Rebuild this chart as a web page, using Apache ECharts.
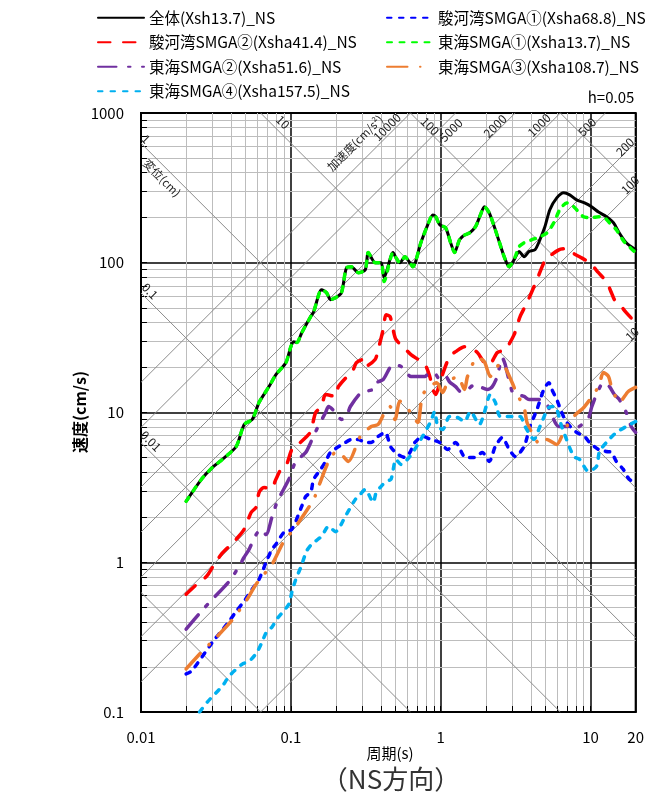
<!DOCTYPE html>
<html><head><meta charset="utf-8">
<script src="https://cdn.jsdelivr.net/npm/echarts@6/dist/echarts.min.js"></script>
<style>html,body{margin:0;padding:0;background:#fff}#c{width:647px;height:799px}</style>
</head><body><div id="c"></div>
<script>
const FONT = '"Noto Sans CJK JP","Noto Sans",sans-serif';

// ---- data (period T [s], pseudo velocity V [cm/s]) ----
const seriesNames = [
  '全体(Xsh13.7)_NS',
  '駿河湾SMGA①(Xsha68.8)_NS',
  '駿河湾SMGA②(Xsha41.4)_NS',
  '東海SMGA①(Xsha13.7)_NS',
  '東海SMGA②(Xsha51.6)_NS',
  '東海SMGA③(Xsha108.7)_NS',
  '東海SMGA④(Xsha157.5)_NS'
];
const xTickLabels = ['0.01','0.1','1','10','20'];
const yTickLabels = ['0.1','1','10','100','1000'];
const dampingText = 'h=0.05';

const total = [[0.02,2.55],[0.0253,3.58],[0.030,4.30],[0.0349,4.86],[0.0432,5.93],[0.0488,8.32],[0.0552,8.98],[0.0614,11.7],[0.0715,14.9],[0.0795,17.9],[0.0926,21.5],[0.1,27.5],[0.1047,29.7],[0.1096,29.3],[0.1183,34.1],[0.1357,43.7],[0.142,47.1],[0.1604,66.1],[0.173,63.1],[0.184,56.7],[0.1986,58.4],[0.2176,63.1],[0.235,92.6],[0.2535,94.0],[0.282,85.8],[0.3138,89.8],[0.3286,117],[0.3654,100],[0.4005,100],[0.419,79.4],[0.481,117],[0.503,108],[0.535,100],[0.577,109.6],[0.623,100],[0.652,94],[0.737,136],[0.82,179.5],[0.885,208.6],[0.926,203],[0.985,179.5],[1.079,171],[1.165,136],[1.238,117],[1.336,142.6],[1.442,153],[1.556,158],[1.705,173.7],[1.84,208.6],[1.956,236.6],[2.11,215],[2.278,173.7],[2.458,138],[2.653,109.6],[2.863,94],[3.09,104.7],[3.335,118.9],[3.6,109.6],[3.884,118.9],[4.256,122],[4.593,142.6],[4.957,173.7],[5.349,226],[5.95,271],[6.62,293],[7.256,284],[8.07,263],[9.12,251],[10.15,236.6],[11.3,218],[12.76,203],[14.21,185],[15.56,158],[17.31,136],[20,122]];

const surugaA = [[0.02,0.1795],[0.0218,0.188],[0.030,0.293],[0.0344,0.347],[0.0388,0.404],[0.0432,0.471],[0.0488,0.549],[0.0552,0.661],[0.0614,0.770],[0.0683,1.0],[0.0748,1.222],[0.0795,1.32],[0.0898,1.58],[0.1015,1.66],[0.1183,2.37],[0.1257,2.75],[0.1357,2.93],[0.142,3.58],[0.158,4.17],[0.1705,4.71],[0.184,5.41],[0.2313,6.31],[0.2535,6.61],[0.282,6.61],[0.314,6.31],[0.344,6.31],[0.3825,6.92],[0.4256,7.36],[0.466,5.84],[0.519,5.25],[0.577,5.01],[0.623,5.41],[0.672,6.31],[0.760,6.92],[0.858,6.61],[0.985,6.31],[1.113,5.67],[1.257,6.31],[1.464,5.01],[1.679,5.01],[1.897,5.41],[2.11,4.71],[2.313,5.93],[2.574,6.81],[2.863,5.67],[3.138,5.09],[3.6,5.93],[3.944,8.06],[4.388,10.47],[4.88,14.26],[5.268,15.8],[5.515,14.26],[5.95,12.2],[6.42,10],[6.93,8.58],[8.07,7.36],[9.12,6.92],[9.85,6.31],[11.3,5.67],[12.76,5.49],[13.78,5.41],[14.86,4.71],[16.54,4.17],[18.12,3.58],[20,3.41]];

const surugaB = [[0.02,0.612],[0.0228,0.692],[0.0274,0.806],[0.030,0.926],[0.0344,1.133],[0.0388,1.28],[0.0432,1.426],[0.0488,1.66],[0.0543,2.15],[0.0586,2.33],[0.0614,2.93],[0.0662,3.16],[0.0737,3.07],[0.0795,3.58],[0.0858,4.17],[0.0926,4.37],[0.1015,5.67],[0.1079,5.93],[0.1276,6.92],[0.1357,7.47],[0.1464,10],[0.1604,10.96],[0.1705,13.2],[0.1986,12.8],[0.2078,14.9],[0.261,19.4],[0.2735,21.5],[0.304,22.6],[0.314,20.3],[0.365,22.6],[0.3825,26.3],[0.413,35.8],[0.432,45.0],[0.459,43.7],[0.481,35.8],[0.503,30.7],[0.586,26.3],[0.633,24.35],[0.783,20.9],[0.845,17.4],[0.885,14.3],[0.926,13.2],[1.0,16.6],[1.147,23.7],[1.257,25.5],[1.442,27.5],[1.58,27.1],[1.758,25.1],[1.956,21.5],[2.11,20.9],[2.385,25.1],[2.694,26.3],[3.09,33.1],[3.386,43.7],[3.767,54.1],[4.19,69.2],[4.388,77],[4.88,100],[5.268,109.6],[6.14,122],[6.72,124],[7.256,118.9],[8.45,109.6],[9.85,100],[11.3,85.8],[12.76,74.7],[13.78,63.1],[14.42,56.7],[15.32,54.1],[17.31,46.4],[20,39.8]];

const tokaiA = [[0.02,2.55],[0.0253,3.58],[0.030,4.30],[0.0349,4.86],[0.0432,5.93],[0.0488,8.32],[0.0552,8.98],[0.0614,11.7],[0.0715,14.9],[0.0795,17.9],[0.0926,21.5],[0.1,27.5],[0.1047,29.7],[0.1096,29.3],[0.1183,34.1],[0.1357,43.7],[0.142,47.1],[0.1604,66.1],[0.173,63.1],[0.184,56.7],[0.1986,58.4],[0.2176,63.1],[0.235,92.6],[0.2535,94.0],[0.282,85.8],[0.3138,89.8],[0.3286,117],[0.3654,100],[0.4005,100],[0.419,75],[0.481,117],[0.503,108],[0.535,100],[0.577,109.6],[0.623,100],[0.652,94],[0.737,136],[0.82,179.5],[0.885,208.6],[0.926,203],[0.985,179.5],[1.079,171],[1.165,136],[1.238,117],[1.336,142.6],[1.442,153],[1.556,158],[1.705,173.7],[1.84,208.6],[1.956,236.6],[2.11,215],[2.278,173.7],[2.458,138],[2.653,109.6],[2.863,94],[3.14,109.6],[3.335,128],[3.6,136],[4.066,142.6],[4.593,149],[5.11,158],[5.685,185],[6.23,226],[6.93,251],[7.48,243.5],[8.07,226],[8.98,203],[10.15,200],[11.3,203],[12.38,200],[13.36,185],[14.86,166],[16.79,138],[20,117]];

const tokaiB = [[0.02,0.358],[0.0253,0.471],[0.030,0.567],[0.0388,0.747],[0.0439,0.898],[0.0488,1.08],[0.0527,1.222],[0.0586,1.53],[0.0633,1.66],[0.0683,1.53],[0.0748,2.0],[0.0807,2.51],[0.0858,2.84],[0.097,3.58],[0.1079,4.71],[0.1257,5.41],[0.1357,6.31],[0.1464,7.47],[0.1705,10],[0.1785,10.96],[0.1986,10],[0.2176,8.98],[0.235,9.4],[0.2496,10.96],[0.295,13.6],[0.3545,14.26],[0.371,15.8],[0.413,16.6],[0.459,20.0],[0.481,20.9],[0.543,20.3],[0.604,17.95],[0.633,17.4],[0.783,17.4],[0.845,18.5],[0.926,17.95],[0.985,16.6],[1.079,17.4],[1.147,16.0],[1.257,14.9],[1.357,13.8],[1.51,14.26],[1.679,15.3],[2.048,14.26],[2.21,14.9],[2.385,17.4],[2.574,23.3],[2.694,20.9],[3.0,13.8],[3.235,13.2],[3.6,12.8],[3.884,12.2],[4.593,12.2],[5.11,11.33],[6.14,8.06],[6.93,8.06],[8.07,7.94],[9.70,9.26],[10.15,10.8],[10.96,13.2],[12.19,15.8],[13.36,14.9],[14.42,13.2],[15.56,12.2],[17.31,10],[18.68,8.06],[20,7.36]];

const tokaiC = [[0.02,0.194],[0.0253,0.251],[0.030,0.297],[0.04,0.404],[0.0511,0.567],[0.0569,0.681],[0.0642,0.806],[0.0737,0.94],[0.0898,1.38],[0.1015,1.60],[0.1129,1.85],[0.142,2.63],[0.1532,3.21],[0.1785,4.71],[0.2017,5.49],[0.2176,5.25],[0.242,4.71],[0.2907,6.92],[0.344,8.06],[0.3825,8.32],[0.432,10.47],[0.459,10.96],[0.4957,8.98],[0.535,11.9],[0.623,10.15],[0.704,8.58],[0.760,13.2],[0.94,15.8],[1.031,13.6],[1.113,15.8],[1.296,17.4],[1.442,14.26],[1.51,17.4],[1.758,23.3],[1.956,21.8],[2.143,17.4],[2.385,20.3],[2.574,21.5],[2.694,20.0],[3.0,15.8],[3.235,13.2],[3.6,10.8],[3.767,8.58],[4.19,6.92],[4.593,6.12],[5.11,6.61],[5.95,6.12],[6.72,7.70],[7.71,9.4],[9.12,10.96],[11.3,14.9],[12.19,18.5],[13.16,17.4],[13.78,14.9],[15.56,11.7],[17.85,13.8],[20,14.7]];

const tokaiD = [[0.0246,0.1],[0.0278,0.117],[0.0349,0.149],[0.0388,0.174],[0.0474,0.209],[0.0527,0.218],[0.0595,0.251],[0.0642,0.293],[0.0693,0.347],[0.0748,0.369],[0.0807,0.417],[0.097,0.525],[0.1015,0.631],[0.1079,0.770],[0.1165,0.926],[0.1276,1.19],[0.1378,1.32],[0.1604,1.49],[0.1785,1.74],[0.1986,1.60],[0.2313,2.03],[0.2694,2.63],[0.2907,2.84],[0.3138,3.07],[0.3545,2.51],[0.371,2.93],[0.4005,3.21],[0.432,3.47],[0.466,3.58],[0.503,4.86],[0.543,4.50],[0.623,5.09],[0.737,6.61],[0.858,8.71],[0.912,10.15],[0.955,8.06],[1.031,7.70],[1.147,9.4],[1.296,9.26],[1.442,8.71],[1.58,10.15],[1.812,8.32],[1.956,10],[2.143,13.2],[2.313,11.7],[2.496,9.4],[2.777,9.4],[3.386,9.4],[3.654,8.06],[4.19,6.61],[4.593,8.06],[5.268,10.8],[5.773,10.96],[6.42,8.06],[7.71,5.09],[8.45,4.86],[9.70,4.04],[10.96,4.37],[11.47,5.49],[12.76,6.31],[14.86,7.36],[17.31,8.06],[20,8.71]];

// tripartite guide values
const dispValues = [0.001, 0.01, 0.1, 1, 10, 100, 1000];           // displacement (cm)
const accelValues = [10, 100, 200, 500, 1000, 2000, 5000, 10000];  // acceleration (cm/s2)
const dispLabels = ['1','0.1','0.01','10','100'];
const accelLabels = ['10000','5000','2000','1000','500','200','100','10'];

// ---- helpers ----
const TMIN = 0.01, TMAX = 20, VMIN = 0.1, VMAX = 1000;
const TWO_PI = 2 * Math.PI;
function dispSeg(D) {
  const c = TWO_PI * D;
  const t1 = Math.max(TMIN, c / VMAX), t2 = Math.min(TMAX, c / VMIN);
  return t1 < t2 ? { coords: [[t1, c / t1], [t2, c / t2]] } : null;
}
function accSeg(A) {
  const c = A / TWO_PI;
  const t1 = Math.max(TMIN, VMIN / c), t2 = Math.min(TMAX, VMAX / c);
  return t1 < t2 ? { coords: [[t1, c * t1], [t2, c * t2]] } : null;
}
const diagData = dispValues.map(dispSeg).concat(accelValues.map(accSeg)).filter(Boolean);

const minorX = [], minorY = [], minorTicks = [];
for (let e = -2; e <= 1; e++) for (let k = 2; k <= 9; k++) {
  const t = k * Math.pow(10, e);
  if (t < TMAX) {
    minorX.push({ coords: [[t, VMIN], [t, VMAX]] });
    minorTicks.push({ coords: [[t, VMIN], [t, VMIN * Math.pow(10, 6 / 150)]] });
  }
}
for (let e = -1; e <= 2; e++) for (let k = 2; k <= 9; k++) {
  const v = k * Math.pow(10, e);
  minorY.push({ coords: [[TMIN, v], [TMAX, v]] });
  minorTicks.push({ coords: [[TMIN, v], [TMIN * Math.pow(10, 6 / 151), v]] });
}

function fmt(v) { return String(+(+v).toPrecision(3)); }

const styles = [
  { color: '#000000', width: 3, type: 'solid' },
  { color: '#0000FF', width: 3.5, type: [4.5, 7.5] },
  { color: '#FF0000', width: 3.5, type: [12.5, 12.5] },
  { color: '#00FF00', width: 3.5, type: [5, 7.5] },
  { color: '#7030A0', width: 3.5, type: [18.5, 11.5, 2.5, 11.5] },
  { color: '#ED7D31', width: 3.5, type: [20.5, 12.5, 0.5, 12.5] },
  { color: '#00B0F0', width: 3.5, type: [4.5, 8] }
];
const allData = [total, surugaA, surugaB, tokaiA, tokaiB, tokaiC, tokaiD];

const dataSeries = allData.map((d, i) => ({
  name: seriesNames[i],
  type: 'line',
  data: d,
  symbol: 'none',
  smooth: 0.25,
  z: 10 + i,
  lineStyle: { color: styles[i].color, width: styles[i].width, type: styles[i].type, cap: 'round', join: 'round' },
  itemStyle: { color: styles[i].color }
}));

const chart = echarts.init(document.getElementById('c'), null, { renderer: 'canvas' });

function txt(x, y, text, rot, size, extra) {
  return {
    type: 'text', x: x, y: y, rotation: rot || 0, z: 50,
    style: Object.assign({ text: text, fontSize: size || 12, fontFamily: FONT, fill: '#222', align: 'center', verticalAlign: 'middle' }, extra || {})
  };
}
const R = Math.PI / 4;
const graphics = [
  txt(146, 139, dispLabels[0], -R),
  txt(162, 178, '変位(cm)', -R, 11.5),
  txt(150, 291, dispLabels[1], -R),
  txt(151, 441, dispLabels[2], -R),
  txt(283, 122, dispLabels[3], -R),
  txt(430, 126, dispLabels[4], -R),
  txt(355, 143, '加速度(cm/s²)', R, 11.5),
  txt(387, 127, accelLabels[0], R),
  txt(451, 130, accelLabels[1], R),
  txt(495, 126, accelLabels[2], R),
  txt(539, 125, accelLabels[3], R),
  txt(587, 127, accelLabels[4], R),
  txt(625, 147, accelLabels[5], R),
  txt(630, 185, accelLabels[6], R),
  txt(632, 334, accelLabels[7], R),
  txt(611, 97, dampingText, 0, 15, { fill: '#000' }),
  txt(80, 412, '速度(cm/s)', Math.PI / 2, 16, { fill: '#000', fontWeight: 'bold' }),
  txt(390, 753, '周期(s)', 0, 15, { fill: '#000' }),
  txt(391, 779, '（NS方向）', 0, 26, { fill: '#333' })
];

const legendCommon = {
  orient: 'vertical', itemWidth: 46, itemHeight: 14, itemGap: 9, selectedMode: false, padding: 0,
  itemStyle: { opacity: 0 },
  textStyle: { fontSize: 15.5, color: '#000', fontFamily: FONT }
};

chart.setOption({
  animation: false,
  backgroundColor: '#fff',
  grid: { left: 141, right: 9, top: 113, bottom: 87, show: true, borderColor: '#000', borderWidth: 2, backgroundColor: 'transparent' },
  legend: [
    Object.assign({ left: 97, top: 10, data: [seriesNames[0], seriesNames[2], seriesNames[4], seriesNames[6]] }, legendCommon),
    Object.assign({ left: 386, top: 10, data: [seriesNames[1], seriesNames[3], seriesNames[5]] }, legendCommon)
  ],
  xAxis: {
    type: 'log', logBase: 10, min: TMIN, max: TMAX,
    axisLine: { show: true, lineStyle: { color: '#000', width: 2 } },
    axisTick: { show: true, inside: true, length: 6, lineStyle: { color: '#000' } },
    axisLabel: { fontSize: 15, color: '#000', fontFamily: FONT, margin: 18, showMaxLabel: true, showMinLabel: true,
      formatter: v => { const s = fmt(v); return xTickLabels.indexOf(s) >= 0 ? s : ''; } },
    splitLine: { show: true, lineStyle: { color: '#000', width: 1.5 } }
  },
  yAxis: {
    type: 'log', logBase: 10, min: VMIN, max: VMAX,
    axisLine: { show: true, lineStyle: { color: '#000', width: 2 } },
    axisTick: { show: true, inside: true, length: 6, lineStyle: { color: '#000' } },
    axisLabel: { fontSize: 15, color: '#000', fontFamily: FONT, margin: 17,
      formatter: v => { const s = fmt(v); return yTickLabels.indexOf(s) >= 0 ? s : ''; } },
    splitLine: { show: true, lineStyle: { color: '#000', width: 1.5 } }
  },
  graphic: graphics,
  series: [
    { type: 'lines', coordinateSystem: 'cartesian2d', silent: true, z: 1, data: minorX.concat(minorY),
      lineStyle: { color: '#bdbdbd', width: 1, opacity: 1 } },
    { type: 'lines', coordinateSystem: 'cartesian2d', silent: true, z: 2, data: minorTicks,
      lineStyle: { color: '#000', width: 1, opacity: 1 } },
    { type: 'lines', coordinateSystem: 'cartesian2d', silent: true, z: 3, data: diagData,
      lineStyle: { color: '#8c8c8c', width: 1, opacity: 1 } }
  ].concat(dataSeries)
});
</script>
</body></html>
